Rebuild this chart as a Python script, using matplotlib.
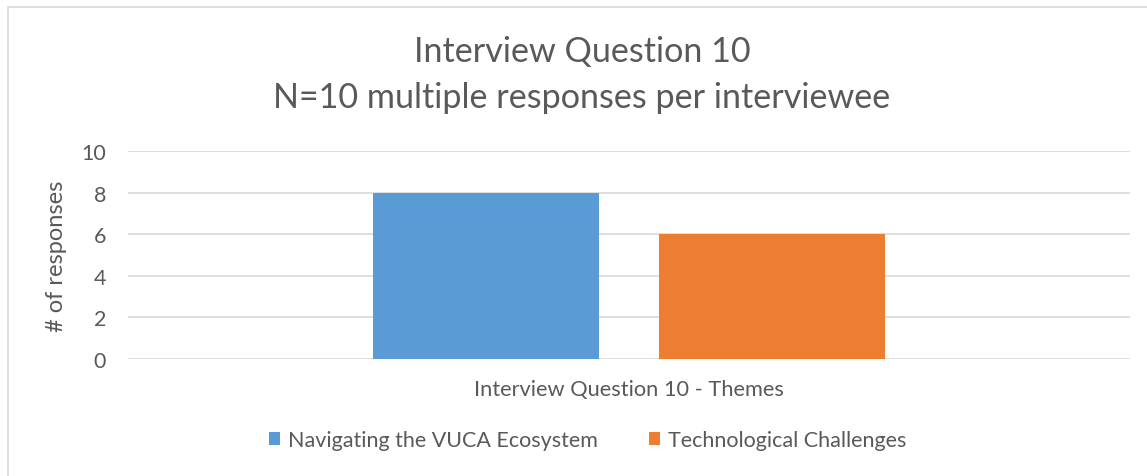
import matplotlib
matplotlib.use("Agg")
import matplotlib.pyplot as plt
from matplotlib.patches import Rectangle
import numpy as np

title_lines = ["Interview Question 10", "N=10 multiple responses per interviewee"]
category = "Interview Question 10 - Themes"
series_names = ["Navigating the VUCA Ecosystem", "Technological Challenges"]
series_values = [8, 6]
series_colors = ["#5B9BD5", "#ED7D31"]
y_ticks = [0, 2, 4, 6, 8, 10]
y_label = "# of responses"

plt.rcParams['font.family'] = ['Lato', 'DejaVu Sans']
txt = "#595959"
W, H = 1147, 477
fig = plt.figure(figsize=(W / 100, H / 100), dpi=100)

# chart border (partially cropped)
fig.add_artist(Rectangle((8 / W, -0.1), 1.2, (H - 8) / H + 0.1, transform=fig.transFigure,
                         fill=False, edgecolor="#D9D9D9", linewidth=1.2))

ax = fig.add_axes([128 / W, (H - 360) / H, (1130 - 128) / W, (360 - 152) / H])
offsets = [-0.1427, 0.1427]
width = 0.2246
for name, v, c, off in zip(series_names, series_values, series_colors, offsets):
    ax.bar(0 + off, v, width=width, color=c, label=name, zorder=3)

ax.set_xlim(-0.5, 0.5)
ax.set_ylim(0, 10)
ax.set_yticks(y_ticks)
ax.set_xticks([])
ax.grid(axis='y', color="#D9D9D9", linewidth=1.2, zorder=0)
for s in ax.spines.values():
    s.set_visible(False)
ax.tick_params(axis='y', length=0, pad=15.8, labelsize=15.5, labelcolor=txt)
ax.set_ylabel(y_label, fontsize=17, color=txt, labelpad=10.5)

fig.text(629 / W, 1 - 390 / H, category, ha='center', va='center', fontsize=15.7, color=txt)
fig.text(582 / W, 1 - 52 / H, title_lines[0], ha='center', va='center', fontsize=24.6, color=txt)
fig.text(582 / W, 1 - 98 / H, title_lines[1], ha='center', va='center', fontsize=24.6, color=txt)

leg = fig.legend(loc='center', bbox_to_anchor=(587.5 / W, 1 - 441 / H), ncol=2, frameon=False,
                 fontsize=15.5, handlelength=0.52, handleheight=0.52, handletextpad=0.35,
                 columnspacing=2.4, labelcolor=txt)

fig.savefig("out.png", dpi=100)
